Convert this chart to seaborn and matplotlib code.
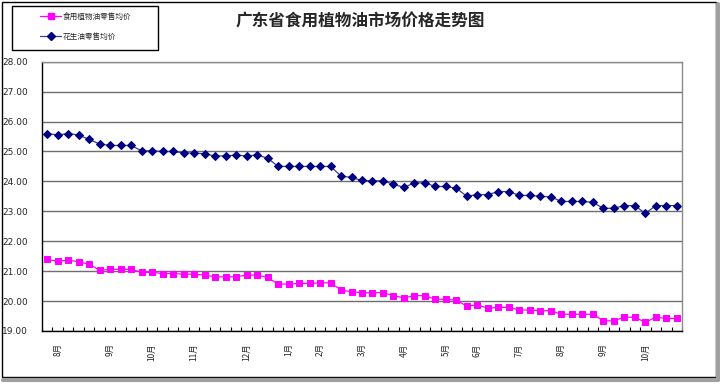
import pandas as pd
import matplotlib
matplotlib.use('Agg')
import matplotlib.pyplot as plt
import seaborn as sns
from matplotlib.patches import Rectangle
from matplotlib.lines import Line2D

# weekly retail prices (yuan)
edible_oil = [21.39, 21.33, 21.37, 21.31, 21.23, 21.03, 21.06, 21.06, 21.06, 20.96,
              20.96, 20.92, 20.92, 20.90, 20.90, 20.87, 20.81, 20.81, 20.81, 20.87,
              20.87, 20.79, 20.57, 20.57, 20.59, 20.59, 20.61, 20.61, 20.37, 20.31,
              20.28, 20.28, 20.28, 20.18, 20.11, 20.18, 20.18, 20.06, 20.06, 20.03,
              19.83, 19.87, 19.76, 19.79, 19.79, 19.70, 19.70, 19.68, 19.68, 19.56,
              19.56, 19.56, 19.56, 19.34, 19.34, 19.46, 19.46, 19.29, 19.46, 19.42,
              19.42]
peanut_oil = [25.60, 25.55, 25.60, 25.55, 25.40, 25.25, 25.20, 25.20, 25.20, 25.02,
              25.02, 25.00, 25.00, 24.95, 24.95, 24.92, 24.85, 24.85, 24.88, 24.85,
              24.88, 24.78, 24.50, 24.50, 24.50, 24.50, 24.50, 24.50, 24.18, 24.13,
              24.03, 24.02, 24.02, 23.90, 23.80, 23.95, 23.95, 23.83, 23.83, 23.77,
              23.50, 23.56, 23.56, 23.66, 23.66, 23.53, 23.53, 23.50, 23.48, 23.33,
              23.33, 23.33, 23.30, 23.10, 23.10, 23.19, 23.19, 22.93, 23.19, 23.19,
              23.19]
month_labels = ['8月', '9月', '10月', '11月', '12月', '1月', '2月', '3月',
                '4月', '5月', '6月', '7月', '8月', '9月', '10月']
month_pos = [1, 6, 10, 14, 19, 23, 26, 30, 34, 38, 41, 45, 49, 53, 57]
y_ticks = [19, 20, 21, 22, 23, 24, 25, 26, 27, 28]

name1 = '食用植物油零售均价'
name2 = '花生油零售均价'

weeks = list(range(len(edible_oil)))
df1 = pd.DataFrame({'week': weeks, 'price': edible_oil})
df2 = pd.DataFrame({'week': weeks, 'price': peanut_oil})

sns.set_style('white')
plt.rcParams['font.family'] = ['Noto Sans CJK SC', 'DejaVu Sans']

fig = plt.figure(figsize=(7.2, 3.85), dpi=100)
ax = fig.add_axes([42 / 720, 1 - 331 / 385, 640 / 720, 269.3 / 385])

sns.lineplot(data=df1, x='week', y='price', ax=ax, color='#FF00FF', lw=0.9,
             marker='s', markersize=4.3, markeredgecolor='#FF00FF', label=name1)
sns.lineplot(data=df2, x='week', y='price', ax=ax, color='#3b3b95', lw=0.9,
             marker='D', markersize=3.8, markeredgecolor='#000080',
             markerfacecolor='#000080', label=name2)
ax.get_legend().remove()

ax.set_xlim(-0.5, 60.5)
ax.set_ylim(19, 28)
ax.set_xlabel('')
ax.set_ylabel('')

ax.set_yticks(y_ticks)
ax.set_yticklabels([f'{v:.2f}' for v in y_ticks], fontsize=6.5,
                   family=['DejaVu Sans'])
ax.yaxis.grid(True, color='#6e6e6e', lw=1)
ax.tick_params(axis='y', length=0, pad=10)

ax.set_xticks(month_pos)
ax.set_xticklabels(month_labels, rotation=90, fontsize=6, va='top', ha='center')
ax.set_xticks([i + 0.5 for i in range(-1, 61)], minor=True)
ax.tick_params(axis='x', which='major', length=0, pad=9)
ax.tick_params(axis='x', which='minor', bottom=True, direction='in',
               length=3, width=0.8, color='black')

for side in ['left', 'bottom']:
    ax.spines[side].set_color('black')
    ax.spines[side].set_linewidth(1)
for side in ['right', 'top']:
    ax.spines[side].set_color('#8c8c8c')
    ax.spines[side].set_linewidth(1)

fig.text(360 / 720, 1 - 22 / 385, '广东省食用植物油市场价格走势图', ha='center',
         va='center', fontsize=12, fontweight='bold')

# legend box
fig.patches.append(Rectangle((12 / 720, 1 - 50 / 385), 146 / 720, 44 / 385,
                             transform=fig.transFigure, fill=False,
                             edgecolor='black', lw=1))
handles = [Line2D([], [], color='#FF00FF', lw=0.9, marker='s', markersize=4.3),
           Line2D([], [], color='#3b3b95', lw=0.9, marker='D', markersize=3.8,
                  markerfacecolor='#000080', markeredgecolor='#000080')]
fig.legend(handles, [name1, name2], loc='upper left',
           bbox_to_anchor=(36 / 720, 1 - 9 / 385), frameon=False, fontsize=5.5,
           handlelength=2.8, handletextpad=0.2, labelspacing=1.6, borderpad=0)

# outer frame
fig.patches.append(Rectangle((1.5 / 720, 1 - 377 / 385), 714 / 720, 375 / 385,
                             transform=fig.transFigure, fill=False,
                             edgecolor='black', lw=1))
fig.add_artist(Line2D([3 / 720, 718 / 720], [1 - 379.5 / 385] * 2,
                      transform=fig.transFigure, color='#a0a0a0', lw=3))
fig.add_artist(Line2D([718 / 720] * 2, [1 - 379.5 / 385, 1 - 4 / 385],
                      transform=fig.transFigure, color='#a0a0a0', lw=3))

fig.savefig('out.png', dpi=100)
